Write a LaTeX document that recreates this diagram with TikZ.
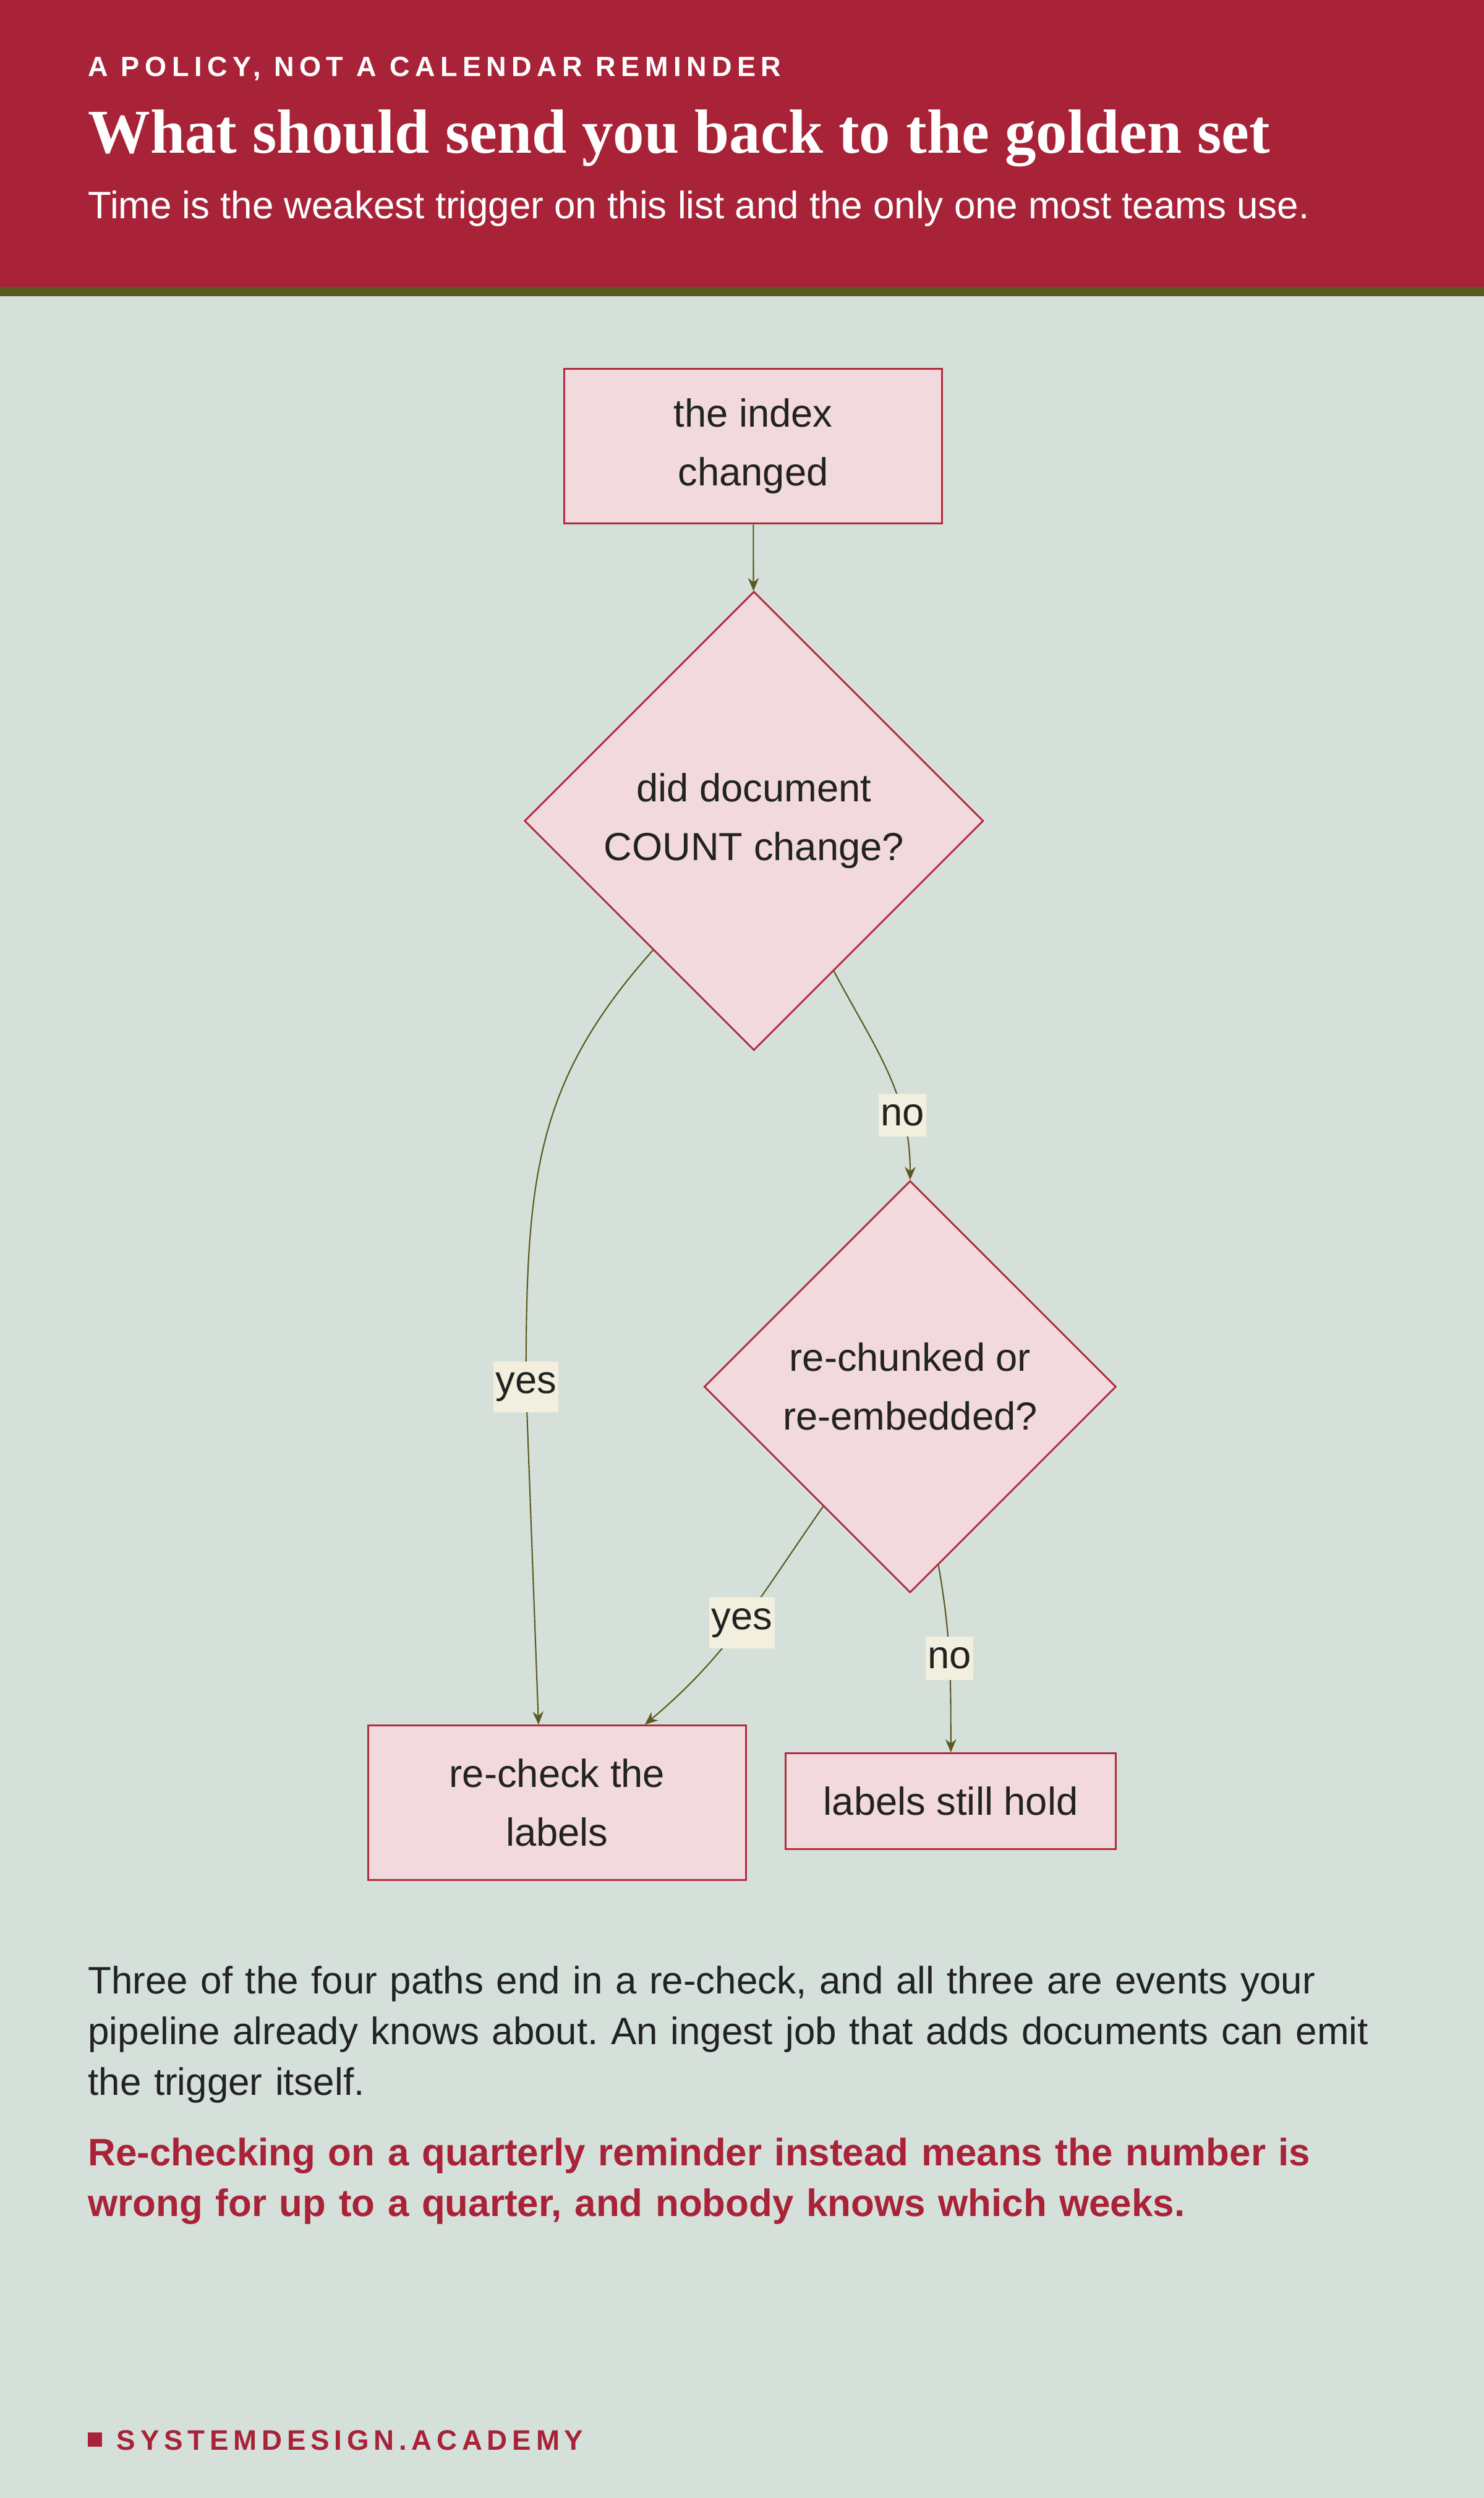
\documentclass[tikz,border=0pt]{standalone}
\usepackage{fontspec}
\setmainfont{Liberation Sans}
\newfontfamily\titlefont{Liberation Serif}
\usetikzlibrary{shapes.geometric,arrows.meta}
\definecolor{brand}{HTML}{A82338}
\definecolor{olive}{HTML}{5A5A1E}
\definecolor{paper}{HTML}{D6E0DA}
\definecolor{boxfill}{HTML}{F1D9DD}
\definecolor{boxline}{HTML}{B22A3F}
\definecolor{tagfill}{HTML}{F2EFDF}
\definecolor{ink}{HTML}{222222}
\tikzset{
  stage/.style={draw=boxline, fill=boxfill, line width=0.8pt, text=ink, align=center,
    font=\fontsize{18}{27}\selectfont, minimum height=2.5cm},
  ask/.style={diamond, aspect=1, draw=boxline, fill=boxfill, line width=0.8pt, text=ink,
    align=center, inner sep=0pt, font=\fontsize{18}{27}\selectfont},
  flow/.style={draw=olive, line width=0.6pt, -{Stealth[length=6pt,width=5pt]}},
  tag/.style={fill=tagfill, text=ink, inner xsep=1pt, inner ysep=5pt, font=\fontsize{18}{21}\selectfont}
}
\frenchspacing
\begin{document}
\begin{tikzpicture}[x=0.025779cm, y=-0.025779cm]
  \useasboundingbox (0,0) rectangle (931,1567.2);
  \fill[paper] (0,0) rectangle (931,1567.2);
  \fill[brand] (0,0) rectangle (931,180);
  \fill[olive] (0,180) rectangle (931,186);
  % header
  \node[anchor=base west, inner sep=0pt, text=white, font=\bfseries\fontsize{12.8}{14}\selectfont\addfontfeature{LetterSpace=19}]
    (kicker) at (55,48) {A POLICY, NOT A CALENDAR REMINDER};
  \node[anchor=base west, inner sep=0pt, text=white, font=\titlefont\bfseries\fontsize{28.7}{31}\selectfont]
    (title) at (55,96) {What should send you back to the golden set};
  \node[anchor=base west, inner sep=0pt, text=white, font=\fontsize{17.6}{20}\selectfont]
    (sub) at (55,137) {Time is the weakest trigger on this list and the only one most teams use.};
  % chart
  \node[stage, minimum width=6.11cm] (idx) at (472.5,280) {the index\\changed};
  \node[ask, minimum width=7.42cm, minimum height=7.42cm] (count) at (473,515) {did document\\COUNT change?};
  \node[ask, minimum width=6.66cm, minimum height=6.66cm] (chunk) at (571,870) {re-chunked or\\re-embedded?};
  \node[stage, minimum width=6.11cm] (recheck) at (349.5,1131) {re-check the\\labels};
  \node[stage, minimum width=5.34cm, minimum height=1.55cm] (hold) at (596.5,1130) {labels still hold};
  \draw[flow] (idx) -- (count);
  \draw[flow] (count.232) .. controls (335,680) and (330,740) .. (330,870)
    node[tag]{yes} -- ([xshift=-0.3cm]recheck.north);
  \draw[flow] (count.298) to[out=-62,in=90] node[tag, pos=0.72]{no} (chunk.north);
  \draw[flow] (chunk.234) to[out=-125,in=40] node[tag, pos=0.5]{yes} ([xshift=-1.65cm]recheck.north east);
  \draw[flow] (chunk.279) to[out=-80,in=90] node[tag, pos=0.5]{no} (hold.north);
  % notes
  \node[anchor=north west, inner sep=0pt, text width=21.2cm, align=left, text=ink, font=\fontsize{17.6}{23.4}\selectfont]
    (note) at (55,1233) {Three of the four paths end in a re-check, and all three are events your pipeline already knows about. An ingest job that adds documents can emit the trigger itself.};
  \node[anchor=north west, inner sep=0pt, text width=21.2cm, align=left, text=brand, font=\bfseries\fontsize{17.6}{23.4}\selectfont]
    (warn) at (55,1341) {Re-checking on a quarterly reminder instead means the number is wrong for up to a quarter, and nobody knows which weeks.};
  % footer
  \fill[brand] (55,1526) rectangle (64,1535);
  \node[anchor=base west, inner sep=0pt, text=brand, font=\bfseries\fontsize{13}{15}\selectfont\addfontfeature{LetterSpace=17}]
    (brandname) at (73,1537) {SYSTEMDESIGN.ACADEMY};
\end{tikzpicture}
\end{document}
